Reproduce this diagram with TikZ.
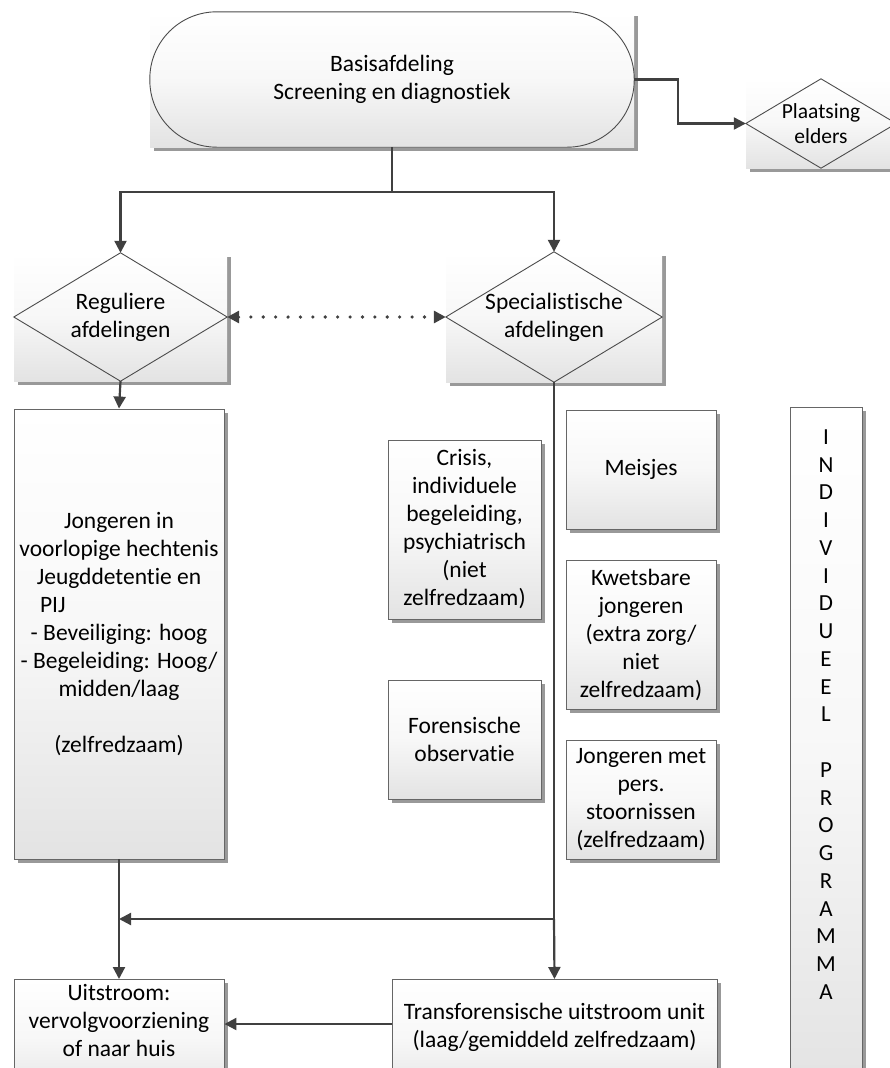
\documentclass[tikz,border=0pt]{standalone}
\usepackage{fontspec}
\setmainfont{Carlito}[Ligatures=NoCommon]
\usetikzlibrary{arrows.meta,shadows,calc}
\newcommand\fsz{\fontsize{23.5}{28}\selectfont}
\begin{document}
\begin{tikzpicture}[x=1pt,y=-1pt,
  conn/.style={draw=black!75,line width=2.2pt},
  arr/.style={conn,-{Triangle[width=12pt,length=12pt]}},
  grad/.style={top color=white,bottom color=black!11,middle color=black!3},
  shad/.style={general shadow={fill=black!40,shadow xshift=3.5pt,shadow yshift=-3.5pt}},
  box/.style={rectangle,draw=black!60,line width=0.9pt,grad,shad,inner sep=0pt,align=center,font=\fsz},
  back/.style={rectangle,grad,shad,inner sep=0pt,align=center,font=\fsz},
  outl/.style={draw=black!70,line width=0.9pt},
  txt/.style={inner sep=0pt,align=center,font=\fsz}]
\useasboundingbox (0,0) rectangle (889,1068);
\fill[white] (0,0) rectangle (889,1068);

% top terminator
\node[back,minimum width=484pt,minimum height=135pt] (term) at (392,79.5) {Basisafdeling\\Screening en diagnostiek};
\draw[outl,rounded corners=67pt] (term.south west) rectangle (term.north east);

% plaatsing elders
\node[back,minimum width=150pt,minimum height=89pt,font=\fontsize{21.5}{25}\selectfont] (pl) at (821,123.5) {Plaatsing\\elders};
\draw[outl] (pl.north) -- (pl.east) -- (pl.south) -- (pl.west) -- cycle;

% decision diamonds
\node[back,minimum width=213pt,minimum height=128pt] (reg) at (120.5,317) {Reguliere\\afdelingen};
\draw[outl] (reg.north) -- (reg.east) -- (reg.south) -- (reg.west) -- cycle;
\node[back,minimum width=216pt,minimum height=130pt] (spec) at (554,317) {Specialistische\\afdelingen};
\draw[outl] (spec.north) -- (spec.east) -- (spec.south) -- (spec.west) -- cycle;

% left tall box
\node[box,minimum width=210pt,minimum height=450pt] (jl) at (119,634) {Jongeren in\\voorlopige hechtenis\\Jeugddetentie en\\\makebox[158pt][l]{PIJ}\\- Beveiliging: hoog\\- Begeleiding: Hoog/\\midden/laag\\~\\(zelfredzaam)};

% middle boxes
\node[box,minimum width=153pt,minimum height=179pt] (crisis) at (464.5,529.5) {Crisis,\\individuele\\begeleiding,\\psychiatrisch\\(niet\\zelfredzaam)};
\node[box,minimum width=153pt,minimum height=119pt] (foren) at (464.5,739.5) {Forensische\\observatie};
\node[box,minimum width=150pt,minimum height=119pt] (meis) at (641,469.5) {Meisjes};
\node[box,minimum width=150pt,minimum height=149pt] (kwets) at (641,634.5) {Kwetsbare\\jongeren\\(extra zorg/\\niet\\zelfredzaam)};
\node[box,minimum width=150pt,minimum height=119pt] (jmet) at (641,799.5) {Jongeren met\\pers.\\stoornissen\\(zelfredzaam)};

% individueel programma
\node[box,minimum width=72pt,minimum height=683pt,anchor=north] (prog) at (826,407) {};
\node[txt,font=\fontsize{23}{27.75}\selectfont] (progt) at (826,714.5) {I\\N\\D\\I\\V\\I\\D\\U\\E\\E\\L\\~\\P\\R\\O\\G\\R\\A\\M\\M\\A};

% bottom boxes
\node[box,minimum width=210pt,minimum height=120pt,anchor=north] (uit) at (119,979) {};
\node[txt] (uitt) at (119,1020) {Uitstroom:\\vervolgvoorziening\\of naar huis};
\node[box,minimum width=325pt,minimum height=120pt,anchor=north] (trans) at (554.5,979) {};
\node[txt] (transt) at (554.5,1027) {Transforensische uitstroom unit\\(laag/gemiddeld zelfredzaam)};

% connectors
\draw[arr] (term.east) -- ++(44,0) |- (pl.west);
\coordinate (j1) at (392,192);
\draw[conn] (term.south) -- (j1);
\draw[arr] (j1) -| (reg.north);
\draw[arr] (j1) -| (spec.north);
\draw[conn,line width=3.6pt,dash pattern=on 0pt off 12.4pt,line cap=round,
  {Triangle[width=12pt,length=12pt]}-{Triangle[width=12pt,length=12pt]}] (reg.east) -- (spec.west);
\draw[arr] (reg.south) -- (jl.north);
\draw[arr] (jl.south) -- (uit.north);
\coordinate (j2) at (554,919);
\draw[conn] (spec.south) -- (j2);
\draw[arr] (j2) -- (trans.north);
\draw[arr] (j2) -- (j2 -| jl.south);
\coordinate (j4) at (392,1024);
\draw[arr] (trans.west |- j4) -- (j4 -| uit.east);
\end{tikzpicture}
\end{document}
